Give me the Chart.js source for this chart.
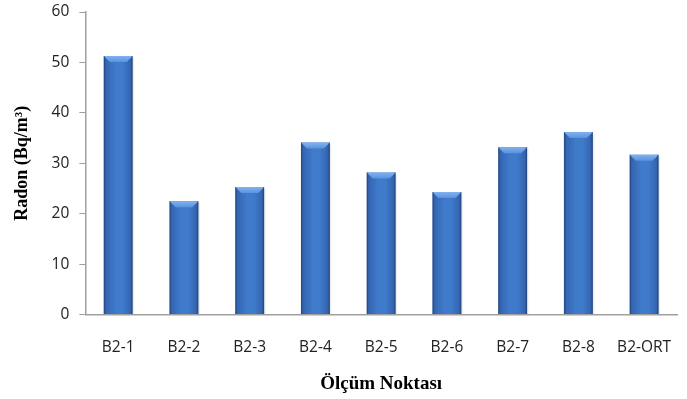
<!DOCTYPE html>
<html><head><meta charset="utf-8">
<script src="https://cdn.jsdelivr.net/npm/chart.js@4/dist/chart.umd.min.js"></script>
<style>html,body{margin:0;padding:0;background:#fff}#wrap{width:687px;height:399px}</style>
</head><body><div id="wrap"><canvas id="c" width="687" height="399"></canvas></div>
<script>
const categories = ["B2-1","B2-2","B2-3","B2-4","B2-5","B2-6","B2-7","B2-8","B2-ORT"];
const radonValues = [51.3, 22.5, 25.3, 34.1, 28.2, 24.3, 33.2, 36.2, 31.7];
const yTicks = [0,10,20,30,40,50,60];
const BAR_PCT = 0.44;

function barGradient(ctx){
  const chart = ctx.chart;
  const xs = chart.scales && chart.scales.x;
  if(!xs || !chart.chartArea || ctx.dataIndex === undefined) return '#3d75c6';
  const cx = xs.getPixelForValue(ctx.dataIndex);
  const w = xs.width / categories.length * BAR_PCT;
  if(!isFinite(cx) || !isFinite(w)) return '#3d75c6';
  const g = chart.ctx.createLinearGradient(cx-w/2,0,cx+w/2,0);
  g.addColorStop(0,'#2b569a');
  g.addColorStop(0.1,'#3567b3');
  g.addColorStop(0.4,'#3f7acb');
  g.addColorStop(0.65,'#3f7acb');
  g.addColorStop(0.9,'#3567b3');
  g.addColorStop(1,'#2a5394');
  return g;
}

const bevelPlugin = {
  id:'bevel',
  afterDatasetsDraw(chart){
    const c = chart.ctx;
    chart.getDatasetMeta(0).data.forEach(bar=>{
      const {x,y,width,base} = bar.getProps(['x','y','width','base'],true);
      const l = x-width/2, r = x+width/2, b = 6;
      c.save();
      const g = c.createLinearGradient(0,y,0,y+b);
      g.addColorStop(0,'#80b3f0'); g.addColorStop(1,'#5a93dd');
      c.fillStyle = g;
      c.beginPath();
      c.moveTo(l,y); c.lineTo(r,y); c.lineTo(r-b,y+b); c.lineTo(l+b,y+b); c.closePath();
      c.fill();
      c.fillStyle='rgba(20,45,95,0.3)';
      c.fillRect(l,y,1.2,base-y);
      c.fillRect(r-1.2,y,1.2,base-y);
      c.fillStyle='rgba(0,0,0,0.07)';
      c.fillRect(r,y+2,1.5,base-y-2);
      c.restore();
    });
  }
};

new Chart(document.getElementById('c'),{
  type:'bar',
  data:{labels:categories,datasets:[{data:radonValues,backgroundColor:barGradient,borderWidth:0,barPercentage:BAR_PCT,categoryPercentage:1}]},
  options:{
    responsive:false,animation:false,
    layout:{padding:{top:12,right:10,left:12,bottom:4}},
    plugins:{legend:{display:false},tooltip:{enabled:false}},
    scales:{
      x:{
        afterFit(s){s.paddingLeft=0;s.paddingRight=0;},
        grid:{display:false,drawTicks:false},
        border:{display:true,color:'#a0a0a0',width:1.5},
        ticks:{color:'#222',font:{family:'"Open Sans", "Liberation Sans", sans-serif',size:15.5},padding:24,maxRotation:0},
        title:{display:true,text:'Ölçüm Noktası',color:'#000',font:{family:'"Liberation Serif", serif',size:19,weight:'bold'},padding:{top:-9,bottom:0}}
      },
      y:{
        min:0,max:60,
        afterFit(s){s.paddingTop=0;s.paddingBottom=0;},
        afterBuildTicks(axis){axis.ticks = yTicks.map(v=>({value:v}));},
        grid:{display:true,drawOnChartArea:false,drawTicks:true,tickLength:6,color:'#a0a0a0'},
        border:{display:true,color:'#a0a0a0',width:1.5},
        ticks:{color:'#222',font:{family:'"Open Sans", "Liberation Sans", sans-serif',size:15.5},padding:10},
        title:{display:true,text:'Radon (Bq/m³)',color:'#000',font:{family:'"Liberation Serif", serif',size:18,weight:'bold'},padding:{top:0,bottom:8}}
      }
    }
  },
  plugins:[bevelPlugin]
});
</script></body></html>
